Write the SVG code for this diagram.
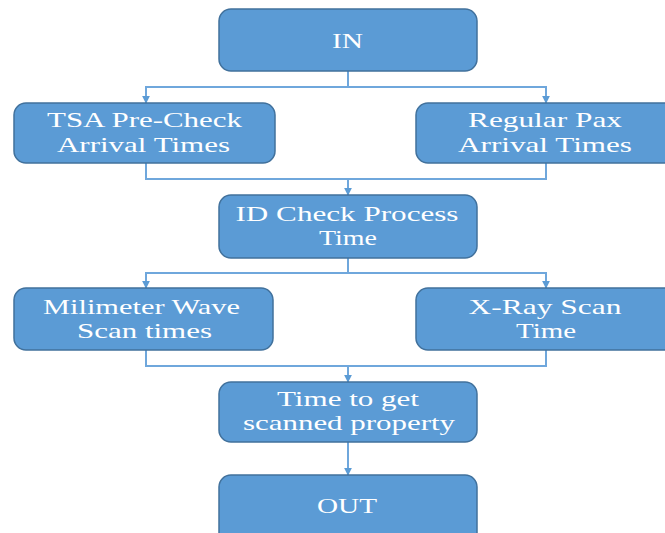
<svg xmlns="http://www.w3.org/2000/svg" width="665" height="533" viewBox="0 0 665 533">
<style>
.box{fill:#5B9BD5;stroke:#41719C;stroke-width:1.5}
.c{fill:none;stroke:#6FA7DC;stroke-width:2}
</style>
<defs>
<marker id="ah" viewBox="0 0 10 10" refX="9" refY="5" markerWidth="8" markerHeight="8" orient="auto" markerUnits="userSpaceOnUse">
<path d="M0,0 L10,5 L0,10 z" fill="#5B9BD5"/>
</marker>
</defs>
<rect width="665" height="533" fill="#FFFFFF"/>
<g id="connectors">
<path class="c" d="M348,71 V87 H146 V103" marker-end="url(#ah)"/>
<path class="c" d="M348,87 H546 V103" marker-end="url(#ah)"/>
<path class="c" d="M146,163 V179 H348 V195" marker-end="url(#ah)"/>
<path class="c" d="M546,163 V179 H348"/>
<path class="c" d="M348,258 V273 H146 V288" marker-end="url(#ah)"/>
<path class="c" d="M348,273 H546 V288" marker-end="url(#ah)"/>
<path class="c" d="M146,350 V366 H348 V382" marker-end="url(#ah)"/>
<path class="c" d="M546,350 V366 H348"/>
<path class="c" d="M348,442 V475" marker-end="url(#ah)"/>
</g>
<g font-family="Liberation Serif, Times New Roman, serif" font-size="22" fill="#FFFFFF" text-anchor="middle">
<g id="in">
<rect class="box" x="219" y="9" width="258" height="62" rx="12"/>
<text x="347.5" y="48" textLength="31" lengthAdjust="spacingAndGlyphs">IN</text>
</g>
<g id="tsa">
<rect class="box" x="14" y="103" width="261" height="60" rx="12"/>
<text x="144.5" y="127" textLength="195" lengthAdjust="spacingAndGlyphs">TSA Pre-Check</text>
<text x="143.5" y="152" textLength="173" lengthAdjust="spacingAndGlyphs">Arrival Times</text>
</g>
<g id="regular">
<rect class="box" x="416" y="103" width="261" height="60" rx="12"/>
<text x="545" y="127" textLength="154" lengthAdjust="spacingAndGlyphs">Regular Pax</text>
<text x="545" y="152" textLength="174" lengthAdjust="spacingAndGlyphs">Arrival Times</text>
</g>
<g id="idcheck">
<rect class="box" x="219" y="195" width="258" height="63" rx="12"/>
<text x="347" y="221" textLength="223" lengthAdjust="spacingAndGlyphs">ID Check Process</text>
<text x="348" y="245" textLength="58" lengthAdjust="spacingAndGlyphs">Time</text>
</g>
<g id="mmwave">
<rect class="box" x="14" y="288" width="259" height="62" rx="12"/>
<text x="141.5" y="314" textLength="197" lengthAdjust="spacingAndGlyphs">Milimeter Wave</text>
<text x="144.5" y="338" textLength="135" lengthAdjust="spacingAndGlyphs">Scan times</text>
</g>
<g id="xray">
<rect class="box" x="416" y="288" width="261" height="62" rx="12"/>
<text x="545" y="314" textLength="153" lengthAdjust="spacingAndGlyphs">X-Ray Scan</text>
<text x="546" y="338" textLength="60" lengthAdjust="spacingAndGlyphs">Time</text>
</g>
<g id="property">
<rect class="box" x="219" y="382" width="258" height="60" rx="12"/>
<text x="348" y="406" textLength="142" lengthAdjust="spacingAndGlyphs">Time to get</text>
<text x="349" y="430" textLength="212" lengthAdjust="spacingAndGlyphs">scanned property</text>
</g>
<g id="out">
<rect class="box" x="219" y="475" width="258" height="70" rx="12"/>
<text x="347" y="513" textLength="60" lengthAdjust="spacingAndGlyphs">OUT</text>
</g>
</g>
</svg>
